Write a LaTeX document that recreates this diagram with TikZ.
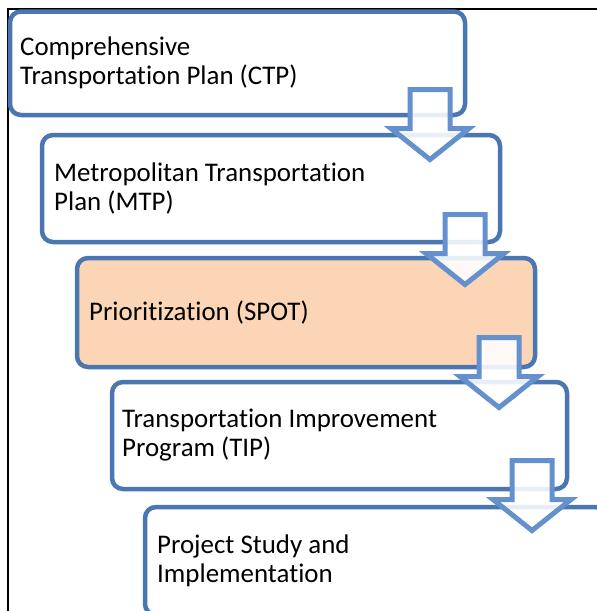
\documentclass[tikz,border=0pt]{standalone}
\usepackage{fontspec}
\setmainfont{Carlito}[Ligatures={NoCommon}]
\definecolor{boxline}{HTML}{4A76B2}
\definecolor{arrline}{HTML}{6491CD}
\definecolor{peach}{HTML}{FBD5B5}
\begin{document}
\begin{tikzpicture}[x=1pt,y=-1pt,
  box/.style={draw=boxline, line width=4.5pt, rounded corners=11pt, fill=white},
  lbl/.style={anchor=west, align=left, inner sep=0pt, font=\fontsize{26.9}{29}\selectfont},
  downarrow/.style={draw=arrline, line width=5pt, fill=white, fill opacity=0.88, line join=miter},
  downarr/.pic={\draw[downarrow] (-20,0) -- (20,0) -- (20,39) -- (39,39) -- (0,70) -- (-39,39) -- (-20,39) -- cycle;}]
\useasboundingbox (0,0) rectangle (597,611);
\clip (0,0) rectangle (597,611);
\fill[white] (0,0) rectangle (597,611);
\draw[black, line width=1.3pt] (8,615) -- (8,9) -- (600,9);
% boxes
\draw[box] (10,11.5) rectangle (465,115);
\draw[box] (42,135) rectangle (500,242);
\draw[box, fill=peach] (77,258) rectangle (535,367);
\draw[box] (112,382) rectangle (567,489);
\draw[box] (145,507) rectangle (606,615);
% texts
\node[lbl] (t1) at (20,63) {Comprehensive\\Transportation Plan (CTP)};
\node[lbl] (t2) at (54,188.5) {Metropolitan Transportation\\Plan (MTP)};
\node[lbl] (t3) at (89,312.5) {Prioritization (SPOT)};
\node[lbl] (t4) at (122,435.5) {Transportation Improvement\\Program (TIP)};
\node[lbl] (t5) at (157,561) {Project Study and\\Implementation};
% arrows
\pic (a1) at (430,89.5) {downarr};
\pic (a2) at (465,214.5) {downarr};
\pic (a3) at (499,337.5) {downarr};
\pic (a4) at (532,460.5) {downarr};
\end{tikzpicture}
\end{document}
